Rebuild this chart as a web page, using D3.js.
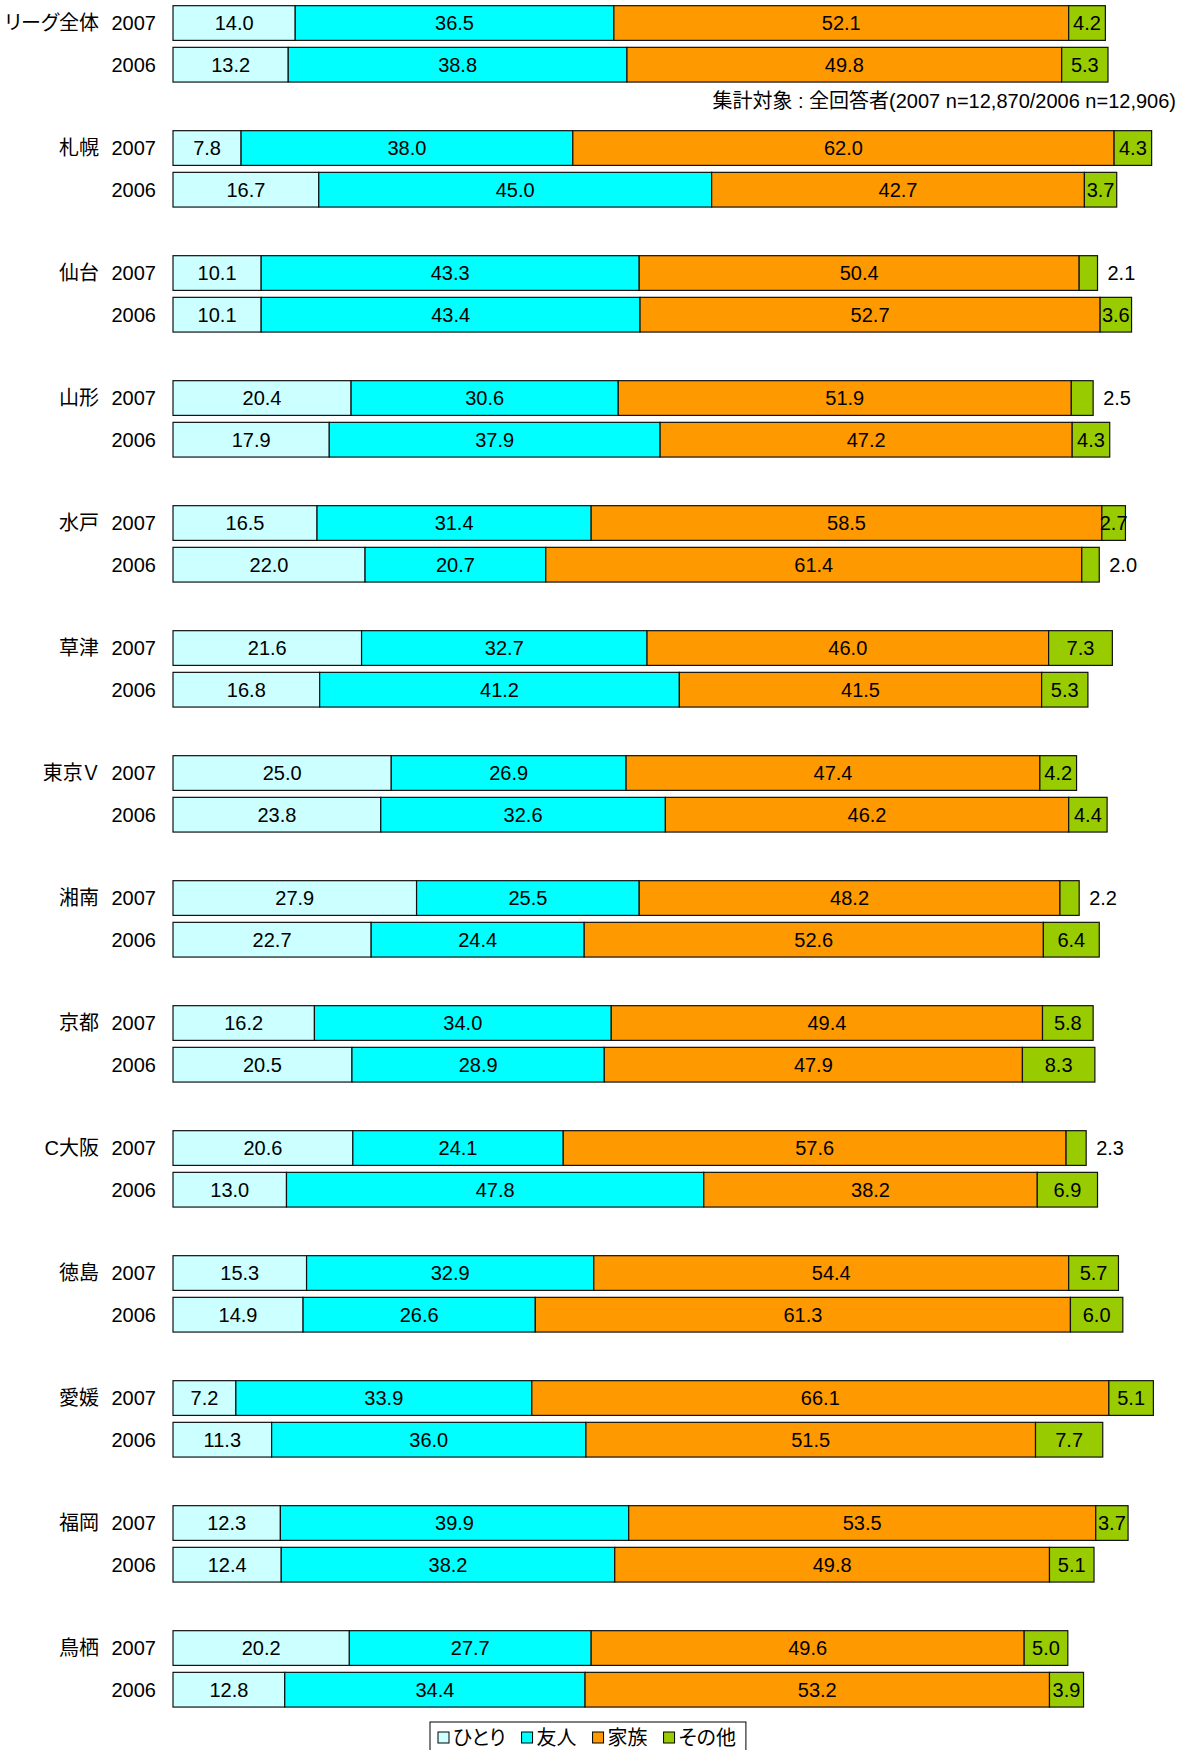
<!DOCTYPE html>
<html><head><meta charset="utf-8">
<script src="https://cdn.jsdelivr.net/npm/d3@7"></script>
<style>
html,body{margin:0;padding:0;background:#fff;}
svg{display:block;font-family:"Liberation Sans",Arial,"Noto Sans CJK JP",sans-serif;}
</style></head>
<body>
<svg id="chart" width="1185" height="1750"></svg>
<script>
const teams = ["リーグ全体","札幌","仙台","山形","水戸","草津","東京Ｖ","湘南","京都","C大阪","徳島","愛媛","福岡","鳥栖"];
const years = ["2007","2006"];
const seriesNames = ["ひとり","友人","家族","その他"];
const seriesColors = ["#CCFFFF","#00FFFF","#FF9900","#99CC00"];

// 2007
const hitori2007 = [14.0, 7.8,10.1,20.4,16.5,21.6,25.0,27.9,16.2,20.6,15.3, 7.2,12.3,20.2];
const yujin2007  = [36.5,38.0,43.3,30.6,31.4,32.7,26.9,25.5,34.0,24.1,32.9,33.9,39.9,27.7];
const kazoku2007 = [52.1,62.0,50.4,51.9,58.5,46.0,47.4,48.2,49.4,57.6,54.4,66.1,53.5,49.6];
const sonota2007 = [ 4.2, 4.3, 2.1, 2.5, 2.7, 7.3, 4.2, 2.2, 5.8, 2.3, 5.7, 5.1, 3.7, 5.0];
// 2006
const hitori2006 = [13.2,16.7,10.1,17.9,22.0,16.8,23.8,22.7,20.5,13.0,14.9,11.3,12.4,12.8];
const yujin2006  = [38.8,45.0,43.4,37.9,20.7,41.2,32.6,24.4,28.9,47.8,26.6,36.0,38.2,34.4];
const kazoku2006 = [49.8,42.7,52.7,47.2,61.4,41.5,46.2,52.6,47.9,38.2,61.3,51.5,49.8,53.2];
const sonota2006 = [ 5.3, 3.7, 3.6, 4.3, 2.0, 5.3, 4.4, 6.4, 8.3, 6.9, 6.0, 7.7, 5.1, 3.9];

const noteText = "集計対象 : 全回答者(2007 n=12,870/2006 n=12,906)";

// build rows
const rows = [];
teams.forEach((t, i) => {
  rows.push({team: t, year: years[0], row: i*3,   vals: [hitori2007[i], yujin2007[i], kazoku2007[i], sonota2007[i]]});
  rows.push({team: t, year: years[1], row: i*3+1, vals: [hitori2006[i], yujin2006[i], kazoku2006[i], sonota2006[i]]});
});

const svg = d3.select("#chart");
const x = d3.scaleLinear().domain([0, 100]).range([173, 1046]);
const y = d3.scaleBand().domain(d3.range(teams.length*3)).range([2.2, 1752.2]).paddingInner(0.167).paddingOuter(0.0835);
const bw = y.bandwidth();
const FS = 20;

const g = svg.append("g");
rows.forEach(r => {
  let cum = 0;
  const yc = y(r.row) + bw/2;
  r.vals.forEach((v, k) => {
    const x0 = x(cum), x1 = x(cum + v);
    g.append("rect")
      .attr("x", x0).attr("y", y(r.row))
      .attr("width", x1 - x0).attr("height", bw)
      .attr("fill", seriesColors[k])
      .attr("stroke", "#111").attr("stroke-width", 1.2);
    const outside = v < 2.6;
    g.append("text")
      .attr("x", outside ? x1 + 10 : (x0 + x1)/2)
      .attr("y", yc).attr("dy", "0.36em")
      .attr("text-anchor", outside ? "start" : "middle")
      .attr("font-size", FS).attr("fill", "#000")
      .text(v.toFixed(1));
    cum += v;
  });
  // year label
  svg.append("text").attr("x", 156).attr("y", yc).attr("dy", "0.36em")
    .attr("text-anchor", "end").attr("font-size", FS).text(r.year);
  if (r.year === years[0]) {
    svg.append("text").attr("x", 99).attr("y", yc).attr("dy", "0.36em")
      .attr("text-anchor", "end").attr("font-size", FS)
      .style("font-feature-settings", "'palt'")
      .text(r.team);
  }
});

// note
svg.append("text").attr("x", 1176).attr("y", y(1) + bw + 19).attr("dy", "0.36em")
  .attr("text-anchor", "end").attr("font-size", 20)
  .style("font-feature-settings", "'palt'").text(noteText);

// legend
const lg = svg.append("g");
const legBox = lg.append("rect").attr("x", 430).attr("y", 1722).attr("width", 310).attr("height", 40)
  .attr("fill", "#fff").attr("stroke", "#000").attr("stroke-width", 1);
let lx = 438;
seriesNames.forEach((n, k) => {
  lg.append("rect").attr("x", lx).attr("y", 1732).attr("width", 11).attr("height", 11)
    .attr("fill", seriesColors[k]).attr("stroke", "#000").attr("stroke-width", 1);
  const t = lg.append("text").attr("x", lx + 15).attr("y", 1738).attr("dy", "0.36em")
    .attr("font-size", FS).style("font-feature-settings", "'palt'").text(n);
  lx += 15 + t.node().getComputedTextLength() + 16;
});
legBox.attr("width", lx - 430 - 6);
</script>
</body></html>
